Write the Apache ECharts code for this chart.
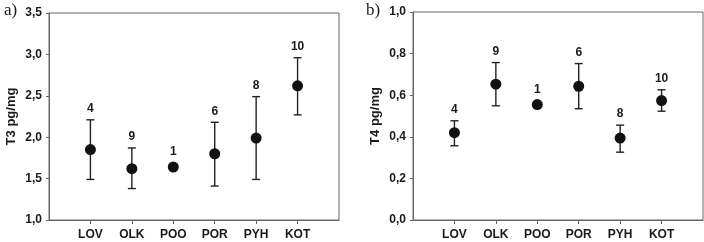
<!DOCTYPE html>
<html>
<head>
<meta charset="utf-8">
<script src="https://cdn.jsdelivr.net/npm/echarts@6/dist/echarts.min.js"></script>
<style>
    html, body { margin: 0; padding: 0; background: #ffffff; }
    #chart { width: 704px; height: 242px; }
</style>
</head>
<body>
<div id="chart"></div>
<script>
// sampling sites and sample sizes
const groups = ['LOV', 'OLK', 'POO', 'POR', 'PYH', 'KOT'];
const nLabels = ['4', '9', '1', '6', '8', '10'];

// a) T3 pg/mg: mean and error bar ends
const t3Mean = [1.85, 1.62, 1.64, 1.80, 1.99, 2.62];
const t3Upper = [2.21, 1.87, 1.64, 2.18, 2.49, 2.96];
const t3Lower = [1.49, 1.38, 1.64, 1.41, 1.49, 2.27];

// b) T4 pg/mg
const t4Mean = [0.42, 0.653, 0.555, 0.643, 0.394, 0.574];
const t4Upper = [0.477, 0.757, 0.555, 0.752, 0.456, 0.626];
const t4Lower = [0.357, 0.549, 0.555, 0.535, 0.326, 0.523];

const textColor = '#1a1a1a';
const lineColor = '#666';
const fontSans = 'Liberation Sans, Arial, sans-serif';

const comma = v => v.toFixed(1).replace('.', ',');

function errorBars(mean, upper, lower) {
    return groups.map((g, i) => [i + 1, lower[i], upper[i], mean[i], nLabels[i]]);
}

function renderErrorBar(params, api) {
    const x = api.value(0);
    const lo = api.coord([x, api.value(1)]);
    const hi = api.coord([x, api.value(2)]);
    const mid = api.coord([x, api.value(3)]);
    const cap = 4;
    const style = { stroke: '#222', lineWidth: 1.4 };
    const children = [];
    const hasBar = Math.abs(lo[1] - hi[1]) > 1;
    if (hasBar) {
        children.push(
            { type: 'line', shape: { x1: hi[0], y1: hi[1], x2: lo[0], y2: lo[1] }, style },
            { type: 'line', shape: { x1: hi[0] - cap, y1: hi[1], x2: hi[0] + cap, y2: hi[1] }, style },
            { type: 'line', shape: { x1: lo[0] - cap, y1: lo[1], x2: lo[0] + cap, y2: lo[1] }, style }
        );
    }
    const top = hasBar ? hi[1] - 5 : mid[1] - 9;
    children.push({
        type: 'text',
        style: {
            x: hi[0], y: top,
            text: api.value(4),
            align: 'center', verticalAlign: 'bottom',
            fill: textColor,
            font: 'bold 12px ' + fontSans
        }
    });
    return { type: 'group', children };
}

function makeX(gridIndex) {
    return {
        type: 'value', gridIndex, min: 0, max: 7, interval: 1,
        splitLine: { show: false },
        axisLine: { lineStyle: { color: lineColor } },
        axisTick: { customValues: [1, 2, 3, 4, 5, 6], length: 4, lineStyle: { color: lineColor } },
        axisLabel: {
            customValues: [1, 2, 3, 4, 5, 6],
            formatter: v => groups[v - 1] || '',
            margin: 9, color: textColor, fontWeight: 'bold', fontSize: 12, fontFamily: fontSans
        }
    };
}

function makeY(gridIndex, name, min, max, interval) {
    return {
        type: 'value', gridIndex, min, max, interval,
        name, nameLocation: 'middle', nameGap: 31,
        nameTextStyle: { color: textColor, fontWeight: 'bold', fontSize: 13, fontFamily: fontSans },
        splitLine: { show: false },
        axisLine: { show: true, lineStyle: { color: lineColor } },
        axisTick: { show: true, length: 3, lineStyle: { color: lineColor } },
        axisLabel: {
            formatter: comma,
            margin: 7, color: textColor, fontWeight: 'bold', fontSize: 12, fontFamily: fontSans
        }
    };
}

const myEcharts = echarts.init(document.getElementById('chart'));
const option = {
    animation: false,
    backgroundColor: '#ffffff',
    title: [
        { text: 'a)', left: -1, top: -3, textStyle: { fontFamily: 'Liberation Serif, serif', fontWeight: 'normal', fontSize: 17, color: textColor } },
        { text: 'b)', left: 361, top: -3, textStyle: { fontFamily: 'Liberation Serif, serif', fontWeight: 'normal', fontSize: 17, color: textColor } }
    ],
    grid: [
        { left: 49, top: 13, width: 290, height: 207, show: true, borderColor: lineColor, borderWidth: 1 },
        { left: 413, top: 12, width: 290, height: 208, show: true, borderColor: lineColor, borderWidth: 1 }
    ],
    xAxis: [makeX(0), makeX(1)],
    yAxis: [makeY(0, 'T3 pg/mg', 1.0, 3.5, 0.5), makeY(1, 'T4 pg/mg', 0, 1.0, 0.2)],
    series: [
        {
            type: 'custom', xAxisIndex: 0, yAxisIndex: 0,
            renderItem: renderErrorBar,
            data: errorBars(t3Mean, t3Upper, t3Lower)
        },
        {
            type: 'scatter', xAxisIndex: 0, yAxisIndex: 0,
            symbolSize: 11, itemStyle: { color: '#111', opacity: 1 },
            data: t3Mean.map((v, i) => [i + 1, v])
        },
        {
            type: 'custom', xAxisIndex: 1, yAxisIndex: 1,
            renderItem: renderErrorBar,
            data: errorBars(t4Mean, t4Upper, t4Lower)
        },
        {
            type: 'scatter', xAxisIndex: 1, yAxisIndex: 1,
            symbolSize: 11, itemStyle: { color: '#111', opacity: 1 },
            data: t4Mean.map((v, i) => [i + 1, v])
        }
    ]
};
myEcharts.setOption(option);
</script>
</body>
</html>
